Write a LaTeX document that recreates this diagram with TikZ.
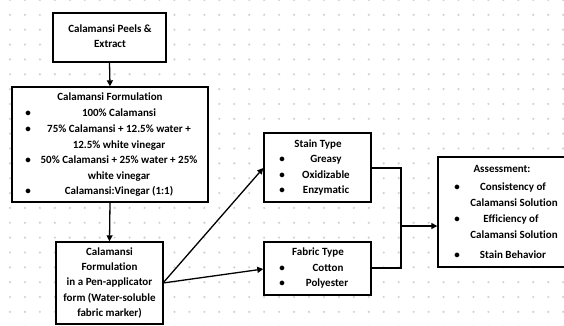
\documentclass[tikz,border=0pt]{standalone}
\usepackage{fontspec}
\setmainfont{Carlito}[Ligatures=NoCommon]
\usetikzlibrary{arrows.meta}
\begin{document}
\begin{tikzpicture}[x=1pt,y=-1pt,
  box/.style={draw=black,line width=1.4pt,fill=white,inner sep=0pt},
  txt/.style={inner sep=0pt,text height=7.5pt,text depth=0pt,font=\fontsize{11}{13}\selectfont\bfseries},
  arr/.style={line width=1.3pt,-{Triangle[length=6pt,width=6pt]}},
  ln/.style={line width=1.3pt}]
\useasboundingbox (0,0) rectangle (564,325);
\fill[white] (0,0) rectangle (564,325);
% dot grid
\foreach \i in {0,...,37}{\foreach \j in {0,...,22}{
  \fill[black!18] ({10+14.95*\i},{14.85*\j}) circle (1.2);}}
% boxes
\node[box,minimum width=113pt,minimum height=49pt] (peels) at (109.5,37.5) {};
\node[box,minimum width=196pt,minimum height=115pt] (form) at (110,144.5) {};
\node[box,minimum width=107pt,minimum height=82pt] (pen) at (109.5,283) {};
\node[box,minimum width=107pt,minimum height=69pt] (stain) at (317.5,167.5) {};
\node[box,minimum width=107pt,minimum height=53pt] (fabric) at (317.5,268.5) {};
\node[box,minimum width=128pt,minimum height=110pt] (assess) at (502,212) {};
% texts: peels
\node[txt] (p1) at (110,29) {Calamansi Peels \&};
\node[txt] (p2) at (110,44) {Extract};
% formulation
\node[txt] (f0) at (110,97) {Calamansi Formulation};
\node[txt] (f1) at (119,113) {100\% Calamansi};
\node[txt] (f2) at (119,129) {75\% Calamansi + 12.5\% water +};
\node[txt] (f3) at (119,144.5) {12.5\% white vinegar};
\node[txt] (f4) at (119,160) {50\% Calamansi + 25\% water + 25\%};
\node[txt] (f5) at (119,175.5) {white vinegar};
\node[txt] (f6) at (119,191) {Calamansi:Vinegar (1:1)};
\foreach \y [count=\k] in {113,129,160,191}{\node[txt] (fb\k) at (28,\y) {•};}
% pen
\node[txt] (n1) at (109.5,252) {Calamansi};
\node[txt] (n2) at (109.5,267) {Formulation};
\node[txt] (n3) at (109.5,282) {in a Pen-applicator};
\node[txt] (n4) at (109.5,297.5) {form (Water-soluble};
\node[txt] (n5) at (109.5,313) {fabric marker)};
% stain
\node[txt] (s0) at (318,144) {Stain Type};
\node[txt] (s1) at (326,159) {Greasy};
\node[txt] (s2) at (326,174.5) {Oxidizable};
\node[txt] (s3) at (326,190) {Enzymatic};
\foreach \y [count=\k] in {159,174.5,190}{\node[txt] (sb\k) at (282,\y) {•};}
% fabric
\node[txt] (b0) at (318,252) {Fabric Type};
\node[txt] (b1) at (328,267.5) {Cotton};
\node[txt] (b2) at (327,283) {Polyester};
\foreach \y [count=\k] in {267.5,283}{\node[txt] (bb\k) at (282,\y) {•};}
% assessment
\node[txt] (a0) at (502,169) {Assessment:};
\node[txt] (a1) at (513,187) {Consistency of};
\node[txt] (a2) at (514,203) {Calamansi Solution};
\node[txt] (a3) at (511,219) {Efficiency of};
\node[txt] (a4) at (514,235) {Calamansi Solution};
\node[txt] (a5) at (513,255) {Stain Behavior};
\foreach \y [count=\k] in {187,219,255}{\node[txt] (ab\k) at (457,\y) {•};}
% connectors
\coordinate (penout) at (163,283);
\coordinate (junc) at (401,226);
\draw[arr] (peels.south) -- (form.north);
\draw[arr] (form.south) -- (pen.north);
\draw[arr] (penout) -- (stain.west |- 0,168);
\draw[arr] (penout) -- (fabric.west |- 0,269);
\draw[ln] (stain.east |- 0,168) -| (junc);
\draw[ln] (fabric.east |- 0,268) -| (junc);
\draw[arr] (junc) -- (assess.west |- junc);
\end{tikzpicture}
\end{document}
